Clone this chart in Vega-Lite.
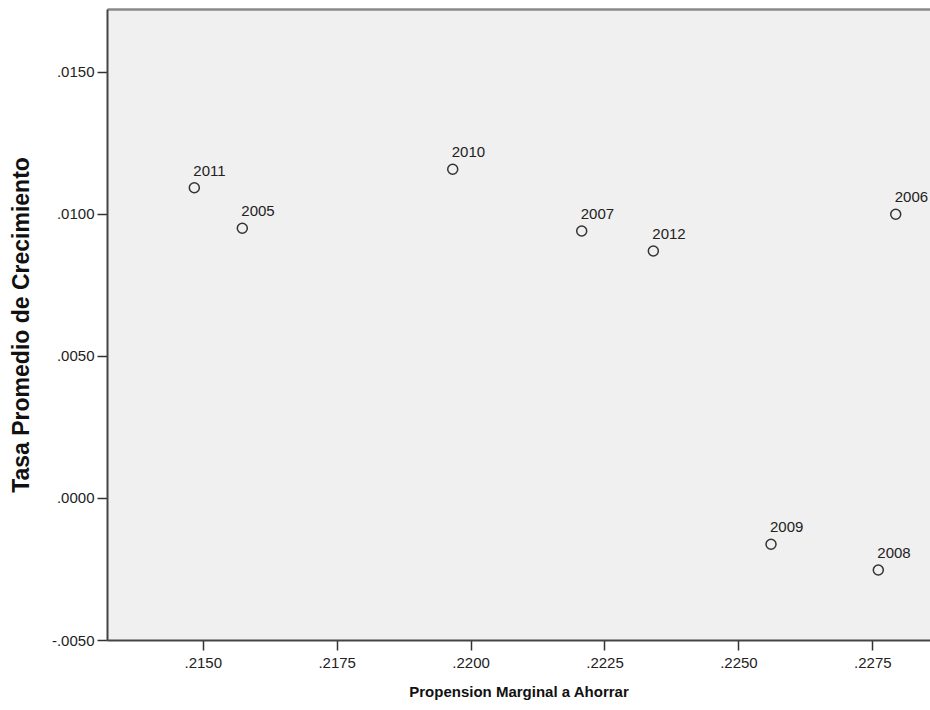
{
  "$schema": "https://vega.github.io/schema/vega-lite/v6.json",
  "width": 823,
  "height": 631,
  "autosize": {"type": "none"},
  "padding": {"left": 107, "top": 9, "right": 0, "bottom": 70},
  "background": "white",
  "config": {
    "view": {"fill": "#f0f0f0", "stroke": null},
    "font": "Liberation Sans"
  },
  "data": {
    "values": [
      {"year": "2005", "mpa": 0.215739, "tasa": 0.009496},
      {"year": "2006", "mpa": 0.227937, "tasa": 0.009990},
      {"year": "2007", "mpa": 0.222075, "tasa": 0.009401},
      {"year": "2008", "mpa": 0.227612, "tasa": -0.002535},
      {"year": "2009", "mpa": 0.225609, "tasa": -0.001630},
      {"year": "2010", "mpa": 0.219667, "tasa": 0.011574},
      {"year": "2011", "mpa": 0.214843, "tasa": 0.010926},
      {"year": "2012", "mpa": 0.223412, "tasa": 0.008697}
    ]
  },
  "layer": [
    {
      "mark": {"type": "point", "shape": "circle", "size": 100, "filled": false, "stroke": "#333333", "strokeWidth": 1.5, "opacity": 1},
      "encoding": {
        "x": {
          "field": "mpa", "type": "quantitative",
          "scale": {"domain": [0.213213, 0.228577], "nice": false, "zero": false},
          "axis": {
            "orient": "bottom",
            "title": "Propension Marginal a Ahorrar",
            "values": [0.215, 0.2175, 0.22, 0.2225, 0.225, 0.2275],
            "labelExpr": "replace(replace(format(datum.value, '.4f'), '\u2212', '-'), '0.', '.')",
            "grid": false,
            "domainColor": "#444444", "domainWidth": 2,
            "tickColor": "#333333", "tickWidth": 1.5, "tickSize": 10,
            "labelFontSize": 15, "labelColor": "#222222", "labelPadding": 5,
            "titleFontSize": 15, "titleFontWeight": "bold", "titleColor": "#111111", "titlePadding": 14
          }
        },
        "y": {
          "field": "tasa", "type": "quantitative",
          "scale": {"domain": [-0.005, 0.017218], "nice": false, "zero": false},
          "axis": {
            "title": "Tasa Promedio de Crecimiento",
            "values": [-0.005, 0, 0.005, 0.01, 0.015],
            "labelExpr": "replace(replace(format(datum.value, '.4f'), '\u2212', '-'), '0.', '.')",
            "grid": false,
            "domainColor": "#444444", "domainWidth": 2,
            "tickColor": "#333333", "tickWidth": 1.5, "tickSize": 10,
            "labelFontSize": 15, "labelColor": "#222222", "labelPadding": 3,
            "titleFontSize": 23, "titleFontWeight": "bold", "titleColor": "#111111", "titlePadding": 18
          }
        }
      }
    },
    {
      "mark": {"type": "text", "align": "left", "baseline": "alphabetic", "dx": -1, "dy": -12, "fontSize": 15, "color": "#222222"},
      "encoding": {
        "x": {
          "field": "mpa", "type": "quantitative",
          "axis": {"orient": "top", "labels": false, "ticks": false, "title": null, "grid": false, "domainColor": "#8a8a8a", "domainWidth": 2.5}
        },
        "y": {"field": "tasa", "type": "quantitative"},
        "text": {"field": "year"}
      }
    }
  ],
  "resolve": {"axis": {"x": "independent"}}
}
